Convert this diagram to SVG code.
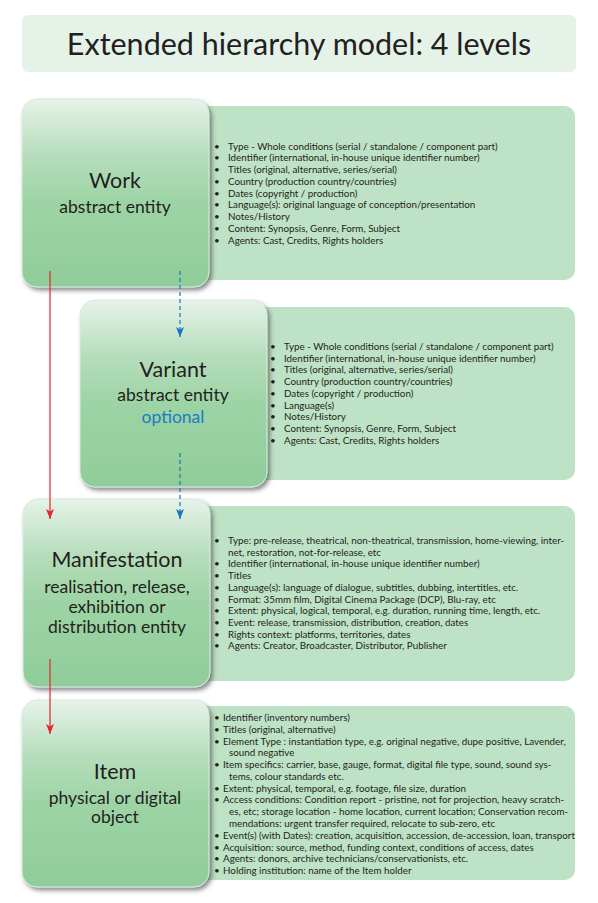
<svg xmlns="http://www.w3.org/2000/svg" width="598" height="903" viewBox="0 0 598 903">
<defs>
<linearGradient id="g" x1="0" y1="0" x2="0" y2="1">
<stop offset="0" stop-color="#e6f3e9"/>
<stop offset="0.3" stop-color="#b6ddbb"/>
<stop offset="0.55" stop-color="#9dd4a5"/>
<stop offset="1" stop-color="#90cd9a"/>
</linearGradient>
<filter id="sh" x="-10%" y="-10%" width="125%" height="125%">
<feDropShadow dx="2.5" dy="3" stdDeviation="2" flood-color="#333" flood-opacity="0.55"/>
</filter>
<marker id="ar" viewBox="0 0 8 10" refX="4" refY="10" markerWidth="8" markerHeight="10" markerUnits="userSpaceOnUse">
<path d="M0,0 L4,2.5 L8,0 L4,10 Z" fill="#e8232b"/>
</marker>
<marker id="ab" viewBox="0 0 8 10" refX="4" refY="10" markerWidth="8" markerHeight="10" markerUnits="userSpaceOnUse">
<path d="M0,0 L4,2.5 L8,0 L4,10 Z" fill="#1a72c3"/>
</marker>
</defs>
<style>
.panel{fill:#bee2c5}
.box{fill:url(#g);stroke:#d6ece0;stroke-width:1;filter:url(#sh)}
.t{font-family:Lato,"Noto Sans",sans-serif;fill:#231f20}
.h{font-size:21.5px;text-anchor:middle}
.s{font-size:17.5px;text-anchor:middle}
.l{font-family:Lato,"Noto Sans",sans-serif;font-size:9.8px;fill:#231f20}
.red{stroke:#e8232b;stroke-width:1.2;fill:none}
.blue{stroke:#1a72c3;stroke-width:1.2;fill:none;stroke-dasharray:4 3}
</style>
<g id="title">
<rect x="22" y="15" width="554" height="57" rx="6" fill="#e4f2e8"/>
<text class="t" x="299" y="55" font-size="30.5" text-anchor="middle">Extended hierarchy model: 4 levels</text>
</g>
<g id="work">
<rect class="panel" x="190" y="106" width="385" height="174" rx="10"/>
<rect class="box" x="22" y="99" width="187" height="188" rx="15"/>
<text class="t h" x="115" y="188">Work</text>
<text class="t s" x="115" y="213">abstract entity</text>
<g class="l">
<text x="214" y="149.5">•</text><text x="228" y="149.5">Type - Whole conditions (serial / standalone / component part)</text>
<text x="214" y="161.2">•</text><text x="228" y="161.2">Identifier (international, in-house unique identifier number)</text>
<text x="214" y="173">•</text><text x="228" y="173">Titles (original, alternative, series/serial)</text>
<text x="214" y="184.7">•</text><text x="228" y="184.7">Country (production country/countries)</text>
<text x="214" y="196.5">•</text><text x="228" y="196.5">Dates (copyright / production)</text>
<text x="214" y="208.2">•</text><text x="228" y="208.2">Language(s): original language of conception/presentation</text>
<text x="214" y="220">•</text><text x="228" y="220">Notes/History</text>
<text x="214" y="231.7">•</text><text x="228" y="231.7">Content: Synopsis, Genre, Form, Subject</text>
<text x="214" y="243.5">•</text><text x="228" y="243.5">Agents: Cast, Credits, Rights holders</text>
</g>
</g>
<g id="variant">
<rect class="panel" x="250" y="307" width="325" height="173" rx="10"/>
<rect class="box" x="80" y="300" width="187" height="187" rx="15"/>
<text class="t h" x="173" y="377">Variant</text>
<text class="t s" x="173" y="401">abstract entity</text>
<text class="s" x="173" y="423" font-family="Lato,'Noto Sans',sans-serif" fill="#1a7cc6">optional</text>
<g class="l">
<text x="270" y="350">•</text><text x="284" y="350">Type - Whole conditions (serial / standalone / component part)</text>
<text x="270" y="361.7">•</text><text x="284" y="361.7">Identifier (international, in-house unique identifier number)</text>
<text x="270" y="373.4">•</text><text x="284" y="373.4">Titles (original, alternative, series/serial)</text>
<text x="270" y="385.1">•</text><text x="284" y="385.1">Country (production country/countries)</text>
<text x="270" y="396.8">•</text><text x="284" y="396.8">Dates (copyright / production)</text>
<text x="270" y="408.5">•</text><text x="284" y="408.5">Language(s)</text>
<text x="270" y="420.2">•</text><text x="284" y="420.2">Notes/History</text>
<text x="270" y="431.9">•</text><text x="284" y="431.9">Content: Synopsis, Genre, Form, Subject</text>
<text x="270" y="443.6">•</text><text x="284" y="443.6">Agents: Cast, Credits, Rights holders</text>
</g>
</g>
<g id="manifestation">
<rect class="panel" x="190" y="506" width="385" height="175" rx="10"/>
<rect class="box" x="23" y="499" width="187" height="188" rx="15"/>
<text class="t h" x="117" y="567">Manifestation</text>
<text class="t s" x="117" y="593">realisation, release,</text>
<text class="t s" x="117" y="613">exhibition or</text>
<text class="t s" x="117" y="633">distribution entity</text>
<g class="l">
<text x="214" y="544">•</text><text x="228" y="544">Type: pre-release, theatrical, non-theatrical, transmission, home-viewing, inter-</text>
<text x="228" y="555.7">net, restoration, not-for-release, etc</text>
<text x="214" y="567.4">•</text><text x="228" y="567.4">Identifier (international, in-house unique identifier number)</text>
<text x="214" y="579.1">•</text><text x="228" y="579.1">Titles</text>
<text x="214" y="590.8">•</text><text x="228" y="590.8">Language(s): language of dialogue, subtitles, dubbing, intertitles, etc.</text>
<text x="214" y="602.5">•</text><text x="228" y="602.5">Format: 35mm film, Digital Cinema Package (DCP), Blu-ray, etc</text>
<text x="214" y="614.2">•</text><text x="228" y="614.2">Extent: physical, logical, temporal, e.g. duration, running time, length, etc.</text>
<text x="214" y="625.9">•</text><text x="228" y="625.9">Event: release, transmission, distribution, creation, dates</text>
<text x="214" y="637.6">•</text><text x="228" y="637.6">Rights context: platforms, territories, dates</text>
<text x="214" y="649.3">•</text><text x="228" y="649.3">Agents: Creator, Broadcaster, Distributor, Publisher</text>
</g>
</g>
<g id="item">
<rect class="panel" x="190" y="706" width="385" height="174" rx="10"/>
<rect class="box" x="22" y="700" width="187" height="187" rx="15"/>
<text class="t h" x="115" y="779">Item</text>
<text class="t s" x="115" y="804">physical or digital</text>
<text class="t s" x="115" y="823">object</text>
<g class="l">
<text x="214" y="721">•</text><text x="223" y="721">Identifier (inventory numbers)</text>
<text x="214" y="732.8">•</text><text x="223" y="732.8">Titles (original, alternative)</text>
<text x="214" y="744.6">•</text><text x="223" y="744.6">Element Type : instantiation type, e.g. original negative, dupe positive, Lavender,</text>
<text x="229" y="756.3">sound negative</text>
<text x="214" y="768.1">•</text><text x="223" y="768.1">Item specifics: carrier, base, gauge, format, digital file type, sound, sound sys-</text>
<text x="229" y="779.9">tems, colour standards etc.</text>
<text x="214" y="791.7">•</text><text x="223" y="791.7">Extent: physical, temporal, e.g. footage, file size, duration</text>
<text x="214" y="803.4">•</text><text x="223" y="803.4">Access conditions: Condition report - pristine, not for projection, heavy scratch-</text>
<text x="229" y="815.2">es, etc; storage location - home location, current location; Conservation recom-</text>
<text x="229" y="827">mendations: urgent transfer required, relocate to sub-zero, etc</text>
<text x="214" y="838.8">•</text><text x="223" y="838.8">Event(s) (with Dates): creation, acquisition, accession, de-accession, loan, transport</text>
<text x="214" y="850.5">•</text><text x="223" y="850.5">Acquisition: source, method, funding context, conditions of access, dates</text>
<text x="214" y="862.3">•</text><text x="223" y="862.3">Agents: donors, archive technicians/conservationists, etc.</text>
<text x="214" y="874.1">•</text><text x="223" y="874.1">Holding institution: name of the Item holder</text>
</g>
</g>
<g id="connectors">
<line class="red" x1="50" y1="271" x2="50" y2="519" marker-end="url(#ar)"/>
<line class="red" x1="50" y1="659" x2="50" y2="734" marker-end="url(#ar)"/>
<line class="blue" x1="180" y1="271" x2="180" y2="337" marker-end="url(#ab)"/>
<line class="blue" x1="180" y1="453" x2="180" y2="519" marker-end="url(#ab)"/>
</g>
</svg>
